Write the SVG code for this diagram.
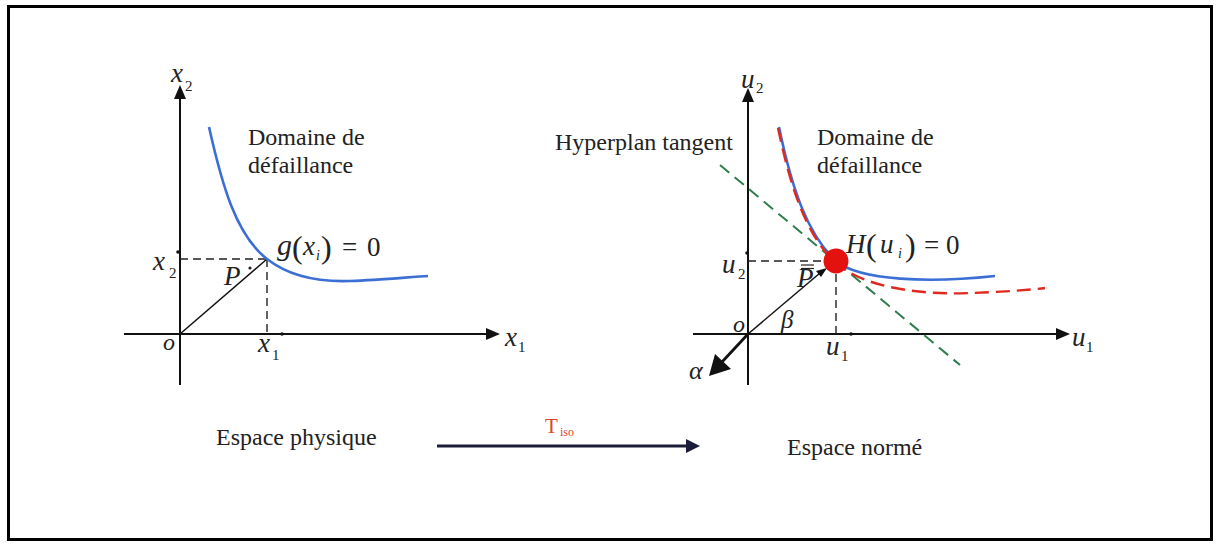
<svg xmlns="http://www.w3.org/2000/svg" width="1217" height="544" viewBox="0 0 1217 544">
<style>
.t{font-family:"Liberation Serif","Times New Roman",serif;font-size:24px;fill:#222}
.m{font-family:"Liberation Serif","Times New Roman",serif;font-size:27px;fill:#222;font-style:italic}
.r{font-family:"Liberation Serif","Times New Roman",serif;fill:#222}
.s{font-family:"Liberation Serif","Times New Roman",serif;font-size:15px;fill:#222}
.ax{stroke:#111;stroke-width:2;fill:none}
.dash{stroke:#222;stroke-width:1.4;stroke-dasharray:8 5;fill:none}
.blue{stroke:#3b6fd6;stroke-width:2.6;fill:none}
.red{stroke:#e0281e;stroke-width:2.4;fill:none;stroke-dasharray:14 7}
.green{stroke:#2f7d4c;stroke-width:2;fill:none;stroke-dasharray:12 7}
.head{fill:#111}
</style>
<rect x="8.5" y="6.5" width="1203" height="533" fill="none" stroke="#000" stroke-width="3"/>

<g id="left-plot">
  <line class="ax" x1="180" y1="96" x2="180" y2="385"/>
  <polygon class="head" points="180,85 174,99 186,99"/>
  <line class="ax" x1="124" y1="334" x2="488" y2="334"/>
  <polygon class="head" points="500,334 486,328 486,340"/>
  <circle cx="282" cy="334" r="1.8" fill="#111"/>
  <circle cx="178" cy="252" r="1.8" fill="#111"/>
  <line class="dash" x1="180" y1="259" x2="267" y2="259"/>
  <line class="dash" x1="267" y1="259" x2="267" y2="334"/>
  <line stroke="#111" stroke-width="1.5" x1="180" y1="334" x2="267" y2="259"/>
  <path class="blue" d="M209,127 C222,185 236,235 267,259 C290,277 320,282 350,281 C380,280 410,277 428,276"/>
  <text class="m" x="171" y="82">x</text><text class="s" x="185" y="91">2</text>
  <text class="m" x="505" y="346">x</text><text class="s" x="518" y="352">1</text>
  <text class="m" x="153" y="270">x</text><text class="s" x="169" y="278">2</text>
  <text class="m" x="258" y="352">x</text><text class="s" x="272" y="360">1</text>
  <text class="m" x="163" y="350" style="font-size:24px">o</text>
  <text class="m" x="224" y="285">P</text><circle cx="250" cy="268" r="1.6" fill="#222"/>
  <text class="t" x="248" y="145">Domaine de</text>
  <text class="t" x="248" y="173">défaillance</text>
  <g id="g-eq">
    <text class="m" x="277" y="255" style="font-size:30px">g</text>
    <text class="r" x="292" y="258" style="font-size:32px">(</text>
    <text class="m" x="303" y="255" style="font-size:27px">x</text>
    <text class="m" x="316" y="260" style="font-size:14px">i</text>
    <text class="r" x="321" y="258" style="font-size:32px">)</text>
    <text class="r" x="342" y="256" style="font-size:27px">=</text>
    <text class="r" x="367" y="256" style="font-size:27px">0</text>
  </g>
</g>

<g id="right-plot">
  <line class="ax" x1="748" y1="99" x2="748" y2="385"/>
  <polygon class="head" points="748,88 742,102 754,102"/>
  <line class="ax" x1="693" y1="334" x2="1058" y2="334"/>
  <polygon class="head" points="1070,334 1056,328 1056,340"/>
  <circle cx="851" cy="334" r="1.8" fill="#111"/>
  <circle cx="747" cy="253" r="1.8" fill="#111"/>
  <line class="dash" x1="748" y1="261" x2="836" y2="261"/>
  <line class="dash" x1="836" y1="261" x2="836" y2="334"/>
  <line class="green" x1="720" y1="165" x2="960" y2="365"/>
  <path class="blue" d="M779,127 C792,190 808,235 836,261 C860,281 930,283 995,276"/>
  <path class="red" d="M778,128 C791,190 807,236 835,262 C865,290 930,295 970,293 C1000,292 1030,290 1045,288"/>
  <line stroke="#111" stroke-width="1.5" x1="748" y1="334" x2="820" y2="273"/>
  <polygon class="head" points="827,268 816,271 821,277"/>
  <line stroke="#111" stroke-width="2.8" x1="748" y1="334" x2="722" y2="362"/>
  <polygon class="head" points="709,376 715,354 731,369"/>
  <circle cx="836" cy="261" r="12.5" fill="#e3120e"/>
  <text class="m" x="741" y="88">u</text><text class="s" x="756" y="93">2</text>
  <text class="m" x="1072" y="346">u</text><text class="s" x="1086" y="352">1</text>
  <text class="m" x="722" y="273">u</text><text class="s" x="738" y="279">2</text>
  <text class="m" x="826" y="355">u</text><text class="s" x="841" y="361">1</text>
  <text class="m" x="733" y="332" style="font-size:24px">o</text>
  <text class="m" x="689" y="379" style="font-size:26px">α</text>
  <text class="m" x="781" y="328" style="font-size:25px">β</text>
  <text class="m" x="797" y="287">P</text>
  <line stroke="#222" stroke-width="1.2" x1="801" y1="265" x2="814" y2="265"/>
  <line stroke="#222" stroke-width="1.2" x1="801" y1="268.5" x2="814" y2="268.5"/>
  <text class="t" x="555" y="150">Hyperplan tangent</text>
  <text class="t" x="817" y="145">Domaine de</text>
  <text class="t" x="817" y="173">défaillance</text>
  <g id="h-eq">
    <text class="m" x="846" y="253">H</text>
    <text class="r" x="866" y="256" style="font-size:32px">(</text>
    <text class="m" x="880" y="253">u</text>
    <text class="m" x="898" y="258" style="font-size:14px">i</text>
    <text class="r" x="905" y="256" style="font-size:32px">)</text>
    <text class="r" x="924" y="254" style="font-size:27px">=</text>
    <text class="r" x="946" y="254" style="font-size:27px">0</text>
  </g>
</g>

<g id="bottom">
  <text class="t" x="216" y="445">Espace physique</text>
  <text class="t" x="787" y="455">Espace normé</text>
  <g id="connectors">
    <line stroke="#1c1d3a" stroke-width="3" x1="437" y1="446" x2="688" y2="446"/>
    <polygon fill="#1c1d3a" points="700,446 686,439 686,453"/>
  </g>
  <text class="r" x="545" y="433" style="font-size:21px;fill:#d9462c">T</text>
  <text class="r" x="560" y="436" style="font-size:12px;fill:#d9462c">iso</text>
</g>
</svg>
